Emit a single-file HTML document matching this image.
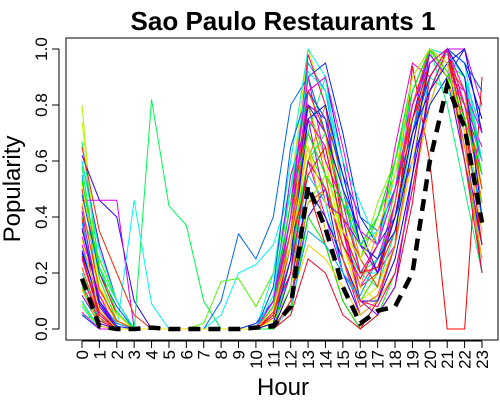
<!DOCTYPE html>
<html><head><meta charset="utf-8"><style>
body{margin:0;background:#fff}
svg{display:block;font-family:"Liberation Sans",sans-serif}
</style></head><body>
<svg id="chart" width="500" height="400"></svg>
<script>
const hours=[0,1,2,3,4,5,6,7,8,9,10,11,12,13,14,15,16,17,18,19,20,21,22,23];
const yTicks=[0,0.2,0.4,0.6,0.8,1.0];
const yTickLabels=["0.0","0.2","0.4","0.6","0.8","1.0"];
const meanValues=[0.18,0.01,0,0,0.005,0,0,0,0,0,0.005,0.01,0.08,0.51,0.36,0.15,0.02,0.065,0.08,0.2,0.6,0.87,0.72,0.38];
const s01=[0.8,0.1,0,0,0,0,0,0,0,0,0,0.05,0.3,0.9,0.7,0.3,0.1,0.2,0.4,0.7,1,0.9,0.6,0.3];
const s02=[0.74,0.2,0.05,0,0,0,0,0,0,0,0,0.1,0.5,1,0.8,0.4,0.15,0.1,0.3,0.8,0.95,1,0.7,0.4];
const s03=[0.67,0.22,0.1,0,0,0,0,0,0,0,0,0.02,0.2,0.7,0.9,0.5,0.2,0.3,0.5,0.9,1,0.8,0.5,0.2];
const s04=[0.62,0.46,0.4,0.1,0,0,0,0,0,0,0,0,0.1,0.4,0.5,0.2,0.05,0.1,0.2,0.5,0.8,1,0.9,0.6];
const s05=[0.46,0.46,0.46,0,0,0,0,0,0,0,0,0.05,0.2,0.6,0.4,0.2,0.1,0.2,0.3,0.6,0.9,1,1,0.8];
const s06=[0.05,0.03,0.02,0,0.82,0.44,0.37,0.1,0,0,0,0.1,0.3,0.6,0.5,0.3,0.2,0.25,0.4,0.7,0.9,1,0.8,0.5];
const s07=[0.3,0.05,0,0.46,0.09,0,0,0,0.05,0.2,0.23,0.3,0.5,0.7,0.6,0.3,0.2,0.2,0.5,0.8,1,0.95,0.9,0.7];
const s08=[0.1,0,0,0,0,0,0,0,0.1,0.34,0.25,0.4,0.8,0.9,0.7,0.5,0.3,0.4,0.6,0.9,1,0.9,0.8,0.6];
const s09=[0.2,0.05,0,0,0,0,0,0.02,0.17,0.18,0.08,0.2,0.5,0.8,0.6,0.3,0.1,0.2,0.5,0.8,1,0.9,0.8,0.5];
const s10=[0.4,0,0,0,0,0,0,0,0,0,0,0,0.1,0.5,0.3,0.1,0,0.1,0.3,0.94,0.6,0,0,0.9];
const s11=[0.55,0.1,0,0,0,0,0,0,0,0,0,0.05,0.4,0.95,0.85,0.5,0.2,0.3,0.5,0.8,1,0.95,0.7,0.35];
const s12=[0.35,0.15,0.02,0,0,0,0,0,0,0,0,0,0.15,0.6,0.8,0.5,0.25,0.15,0.35,0.7,0.9,1,0.85,0.5];
const s13=[0.25,0.05,0,0,0,0,0,0,0,0,0,0.1,0.35,0.7,0.55,0.25,0.05,0.1,0.3,0.65,0.95,1,0.75,0.4];
const s14=[0.15,0.02,0,0,0,0,0,0,0,0,0,0,0.05,0.4,0.3,0.1,0,0.05,0.2,0.5,0.85,1,0.9,0.6];
const s15=[0.6,0.3,0.1,0,0,0,0,0,0,0,0,0.05,0.25,0.85,0.9,0.6,0.3,0.2,0.4,0.75,1,0.9,0.6,0.3];
const s16=[0.1,0,0,0,0,0,0,0,0,0,0,0.2,0.6,1,0.9,0.5,0.3,0.35,0.5,0.7,0.85,1,0.95,0.6];
const s17=[0.45,0.12,0.03,0,0,0,0,0,0,0,0,0,0.1,0.3,0.25,0.15,0.05,0.1,0.2,0.5,0.8,1,0.85,0.45];
const s18=[0.3,0.1,0,0,0,0,0,0,0,0,0,0.02,0.3,0.75,0.65,0.35,0.15,0.25,0.45,0.85,1,0.95,0.8,0.55];
const s19=[0.05,0,0,0,0,0,0,0,0,0,0.02,0.1,0.45,0.9,0.95,0.7,0.4,0.3,0.4,0.6,0.8,0.9,1,0.7];
const s20=[0.5,0.2,0.05,0,0,0,0,0,0,0,0,0,0.05,0.25,0.2,0.05,0,0.05,0.15,0.45,0.9,1,0.7,0.2];
const s21=[0.2,0.03,0,0,0,0,0,0,0,0,0,0.05,0.2,0.55,0.45,0.2,0.1,0.15,0.3,0.6,0.9,1,0.9,0.7];
const s22=[0.4,0.25,0.1,0,0,0,0,0,0,0,0,0.1,0.3,0.65,0.5,0.35,0.25,0.4,0.55,0.75,0.95,1,0.6,0.25];
const s23=[0.12,0.02,0,0,0,0,0,0,0,0,0,0,0.2,0.8,0.75,0.4,0.1,0.05,0.15,0.55,1,0.95,0.65,0.3];
const s24=[0.65,0.35,0.2,0.05,0,0,0,0,0,0,0,0,0.1,0.45,0.5,0.3,0.15,0.2,0.35,0.7,0.95,1,0.8,0.5];
const s25=[0.08,0,0,0,0,0,0,0,0,0,0,0.15,0.5,0.85,0.7,0.45,0.2,0.15,0.35,0.7,0.9,0.85,0.75,0.8];
const s26=[0.28,0.08,0,0,0,0,0,0,0,0,0,0,0.15,0.5,0.4,0.25,0.1,0.1,0.25,0.55,0.85,1,0.95,0.75];
const s27=[0.52,0.15,0.05,0,0,0,0,0,0,0,0,0.03,0.25,0.7,0.6,0.3,0.1,0.15,0.3,0.6,0.95,1,0.85,0.5];
const s28=[0.18,0.05,0,0,0,0,0,0,0,0,0,0.08,0.4,0.98,0.8,0.35,0.1,0.08,0.2,0.5,0.85,1,0.7,0.35];
const s29=[0.38,0.1,0.02,0,0,0,0,0,0,0,0,0,0.08,0.35,0.3,0.2,0.12,0.25,0.4,0.7,1,0.95,0.7,0.4];
const s30=[0.22,0.04,0,0,0,0,0,0,0,0,0,0.04,0.3,0.8,0.55,0.25,0.08,0.12,0.3,0.65,0.95,1,0.8,0.45];
const s31=[0.42,0.08,0,0,0,0,0,0,0,0,0,0.1,0.55,0.75,0.45,0.4,0.3,0.2,0.45,0.8,0.98,0.9,0.85,0.6];
const s32=[0.58,0.18,0.03,0,0,0,0,0,0,0,0,0,0.25,0.6,0.7,0.45,0.35,0.3,0.6,0.9,1,0.95,0.9,0.55];
const s33=[0.14,0.01,0,0,0,0,0,0,0,0,0,0.05,0.35,0.65,0.35,0.3,0.15,0.35,0.55,0.8,1,0.9,0.65,0.25];
const s34=[0.33,0.12,0,0,0,0,0,0,0,0,0,0.08,0.45,0.9,0.6,0.45,0.2,0.3,0.65,0.95,0.9,1,0.8,0.65];
const s35=[0.48,0.2,0.08,0,0,0,0,0,0,0,0,0.15,0.65,0.85,0.75,0.55,0.4,0.35,0.5,0.7,0.9,1,0.95,0.85];
const s36=[0.09,0,0,0,0,0,0,0,0,0,0,0.02,0.15,0.45,0.55,0.4,0.25,0.45,0.6,0.85,1,0.9,0.7,0.45];
const s37=[0.26,0.06,0,0,0,0,0,0,0,0,0,0.05,0.3,0.55,0.65,0.35,0.2,0.22,0.4,0.75,0.95,1,0.75,0.3];
const s38=[0.36,0.1,0.01,0,0,0,0,0,0,0,0,0.1,0.4,0.8,0.7,0.5,0.35,0.2,0.4,0.7,0.85,0.95,1,0.7];
const s39=[0.6,0.28,0.1,0,0,0,0,0,0,0,0,0.12,0.5,0.92,0.85,0.6,0.45,0.3,0.55,0.85,1,0.98,0.9,0.6];
const s40=[0.16,0.03,0,0,0,0,0,0,0,0,0,0.06,0.2,0.6,0.5,0.3,0.18,0.3,0.5,0.75,0.9,1,0.6,0.2];
const s41=[0.44,0.14,0.03,0,0,0,0,0,0,0,0,0.04,0.35,0.85,0.7,0.4,0.25,0.15,0.45,0.8,1,0.95,0.85,0.5];
const s42=[0.27,0.09,0,0,0,0,0,0,0,0,0,0.02,0.25,0.75,0.8,0.55,0.3,0.25,0.35,0.65,0.95,1,0.9,0.4];
const s43=[0.53,0.22,0.06,0,0,0,0,0,0,0,0,0.08,0.45,0.7,0.55,0.45,0.3,0.4,0.6,0.85,1,0.92,0.75,0.55];
const s44=[0.06,0,0,0,0,0,0,0,0,0,0,0.1,0.4,0.85,0.9,0.65,0.35,0.3,0.5,0.8,0.95,1,0.85,0.7];
const s45=[0.32,0.07,0,0,0,0,0,0,0,0,0,0.07,0.3,0.65,0.45,0.35,0.25,0.35,0.55,0.9,1,0.95,0.7,0.35];
const series=[s01,s02,s03,s04,s05,s06,s07,s08,s09,s10,s11,s12,s13,s14,s15,s16,s17,s18,s19,s20,s21,s22,s23,s24,s25,s26,s27,s28,s29,s30,s31,s32,s33,s34,s35,s36,s37,s38,s39,s40,s41,s42,s43,s44,s45];
const seriesHues=[80,70,150,250,290,140,180,215,100,0,200,30,320,120,260,170,50,300,230,350,190,110,270,10,160,240,60,330,200,20,280,130,40,310,220,90,0,250,175,340,15,235,120,300,55];

const svg=document.getElementById('chart');
const NS='http://www.w3.org/2000/svg';
const X=h=>82+h*(400/23);
const Y=v=>329-v*280;
function mk(tag,attrs,parent){const e=document.createElementNS(NS,tag);for(const k in attrs)e.setAttribute(k,attrs[k]);(parent||svg).appendChild(e);return e;}

const title=mk('text',{x:283,y:30,'text-anchor':'middle','font-size':26,'font-weight':'bold'});
title.textContent='Sao Paulo Restaurants 1';



const linesG=mk('g',{fill:'none','stroke-width':1});


series.forEach((s,i)=>{
  const p=mk('polyline',{points:s.map((v,j)=>X(hours[j])+','+Y(v)).join(' '),stroke:'hsl('+seriesHues[i]+',100%,48%)'},linesG);
  
  
});
const mean=mk('polyline',{points:meanValues.map((v,j)=>X(hours[j])+','+Y(v)).join(' '),fill:'none',stroke:'#000','stroke-width':4.5,'stroke-dasharray':'12,8'});



const box=mk('rect',{x:66,y:38,width:432,height:302,fill:'none',stroke:'#000','stroke-width':1});



const yAxis=mk('g',{});


mk('line',{x1:59,x2:59,y1:Y(0),y2:Y(1),stroke:'#000'},yAxis);
yTicks.forEach((t,i)=>{
  mk('line',{x1:52,x2:59,y1:Y(t),y2:Y(t),stroke:'#000'},yAxis);
  const tx=mk('text',{x:0,y:0,'font-size':17,'text-anchor':'middle',transform:'translate(47,'+Y(t)+') rotate(-90)'},yAxis);
  tx.textContent=yTickLabels[i];
  
  
});
const yt=mk('text',{x:0,y:0,'font-size':24,'text-anchor':'middle',transform:'translate(20,189) rotate(-90)'});
yt.textContent='Popularity';



const xAxis=mk('g',{});


mk('line',{x1:X(0),x2:X(23),y1:341,y2:341,stroke:'#000'},xAxis);
hours.forEach(h=>{
  mk('line',{x1:X(h),x2:X(h),y1:341,y2:348,stroke:'#000'},xAxis);
  const tx=mk('text',{x:0,y:0,'font-size':17,'text-anchor':'end',transform:'translate('+(X(h)+6)+',350) rotate(-90)'},xAxis);
  tx.textContent=String(h);
  
  
});
const xt=mk('text',{x:283,y:395,'font-size':24,'text-anchor':'middle'});
xt.textContent='Hour';


</script>
</body></html>
